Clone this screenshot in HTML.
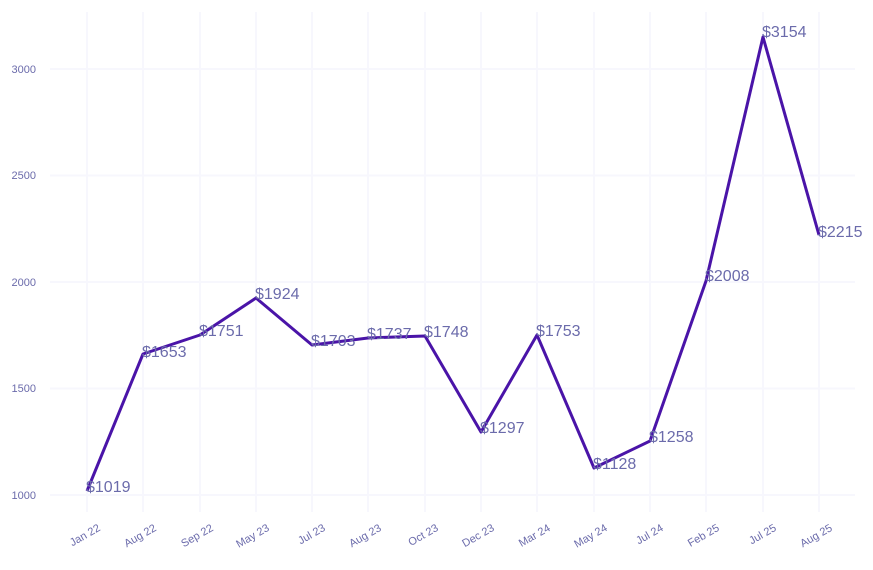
<!DOCTYPE html>
<html><head><style>body{margin:0;background:#fff}</style></head><body>
<svg width="873" height="565" xmlns="http://www.w3.org/2000/svg" font-family="Liberation Sans, sans-serif">
<g stroke="#f7f7fd" stroke-width="2">
<line x1="50" x2="855" y1="495" y2="495"/><line x1="50" x2="855" y1="388.5" y2="388.5"/><line x1="50" x2="855" y1="282" y2="282"/><line x1="50" x2="855" y1="175.5" y2="175.5"/><line x1="50" x2="855" y1="69" y2="69"/>
<line x1="87" x2="87" y1="12" y2="512"/><line x1="143" x2="143" y1="12" y2="512"/><line x1="200" x2="200" y1="12" y2="512"/><line x1="256" x2="256" y1="12" y2="512"/><line x1="312" x2="312" y1="12" y2="512"/><line x1="368" x2="368" y1="12" y2="512"/><line x1="425" x2="425" y1="12" y2="512"/><line x1="481" x2="481" y1="12" y2="512"/><line x1="537" x2="537" y1="12" y2="512"/><line x1="594" x2="594" y1="12" y2="512"/><line x1="650" x2="650" y1="12" y2="512"/><line x1="706" x2="706" y1="12" y2="512"/><line x1="763" x2="763" y1="12" y2="512"/><line x1="819" x2="819" y1="12" y2="512"/>
</g>
<g fill="#6b6bab" font-size="11" text-anchor="end">
<text x="36" y="499">1000</text><text x="36" y="392">1500</text><text x="36" y="286">2000</text><text x="36" y="179">2500</text><text x="36" y="73">3000</text>
</g>
<g fill="#6b6bab" font-size="11" text-anchor="end">
<text transform="translate(101,530) rotate(-30)">Jan 22</text>
<text transform="translate(157,530) rotate(-30)">Aug 22</text>
<text transform="translate(214,530) rotate(-30)">Sep 22</text>
<text transform="translate(270,530) rotate(-30)">May 23</text>
<text transform="translate(326,530) rotate(-30)">Jul 23</text>
<text transform="translate(382,530) rotate(-30)">Aug 23</text>
<text transform="translate(439,530) rotate(-30)">Oct 23</text>
<text transform="translate(495,530) rotate(-30)">Dec 23</text>
<text transform="translate(551,530) rotate(-30)">Mar 24</text>
<text transform="translate(608,530) rotate(-30)">May 24</text>
<text transform="translate(664,530) rotate(-30)">Jul 24</text>
<text transform="translate(720,530) rotate(-30)">Feb 25</text>
<text transform="translate(777,530) rotate(-30)">Jul 25</text>
<text transform="translate(833,530) rotate(-30)">Aug 25</text>
</g>
<polyline fill="none" stroke="#4a14a8" stroke-width="3" stroke-linejoin="round" points="87,491 143,354 200,335 256,298 312,345 368,338 425,336 481,432 537,335 594,468 650,441 706,281 763,37 819,235"/>
<g fill="#6b6bab" font-size="16">
<text x="86" y="492">$1019</text><text x="142" y="357">$1653</text><text x="199" y="336">$1751</text><text x="255" y="299">$1924</text><text x="311" y="346">$1703</text><text x="367" y="339">$1737</text><text x="424" y="337">$1748</text><text x="480" y="433">$1297</text><text x="536" y="336">$1753</text><text x="593" y="469">$1128</text><text x="649" y="442">$1258</text><text x="705" y="281">$2008</text><text x="762" y="37">$3154</text><text x="818" y="237">$2215</text>
</g>
</svg>
</body></html>
